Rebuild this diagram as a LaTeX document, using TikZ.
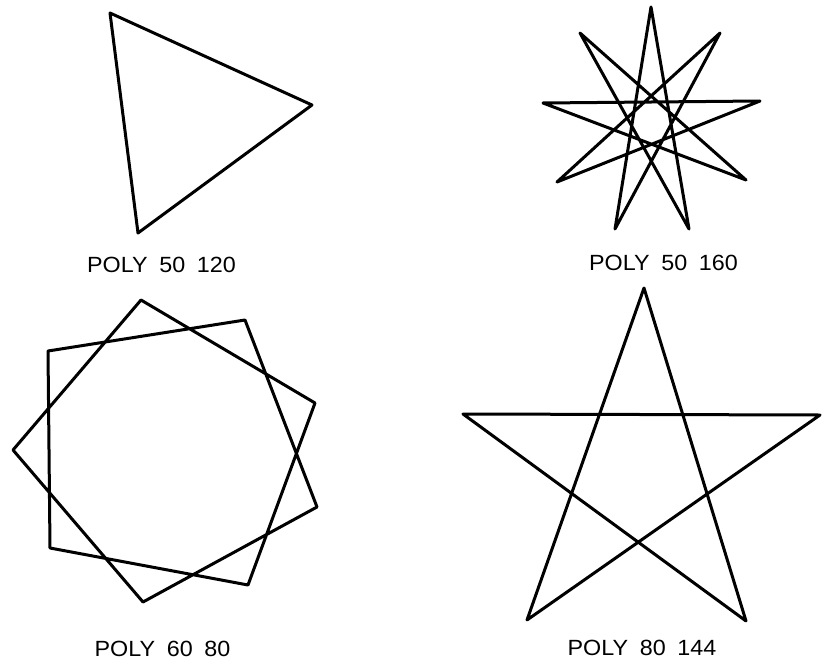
\documentclass[tikz,border=0pt]{standalone}
\usepackage{fontspec}
\setmainfont{Liberation Sans}
\newcommand{\wsp}{\hspace{0.5em}}
\begin{document}
\begin{tikzpicture}[x=1pt,y=-1pt,
  poly/.style={line width=3pt,line join=round,draw=black},
  lab/.style={inner sep=0pt,font=\fontsize{22}{24}\selectfont}]
\useasboundingbox (0,0) rectangle (826,666);
% POLY 50 120
\coordinate (t1) at (110,13);
\coordinate (t2) at (312,105);
\coordinate (t3) at (138,233);
\draw[poly] (t1) -- (t2) -- (t3) -- cycle;
% POLY 50 160 (tips clockwise from top)
\coordinate (s0) at (651,7);
\coordinate (s1) at (720,33);
\coordinate (s2) at (760,101);
\coordinate (s3) at (746,180);
\coordinate (s4) at (689,229);
\coordinate (s5) at (615,229);
\coordinate (s6) at (557,182);
\coordinate (s7) at (543,103);
\coordinate (s8) at (580,33);
\draw[poly] (s0) -- (s4) -- (s8) -- (s3) -- (s7) -- (s2) -- (s6) -- (s1) -- (s5) -- cycle;
% POLY 60 80
\coordinate (h0) at (141,300);
\coordinate (h1) at (245,320);
\coordinate (h2) at (315,403);
\coordinate (h3) at (317,507);
\coordinate (h4) at (248,585);
\coordinate (h5) at (143,602);
\coordinate (h6) at (50,548);
\coordinate (h7) at (13,450);
\coordinate (h8) at (48,351);
\draw[poly] (h0) -- (h2) -- (h4) -- (h6) -- (h8) -- (h1) -- (h3) -- (h5) -- (h7) -- cycle;
% POLY 80 144
\coordinate (p0) at (644,288);
\coordinate (p1) at (820,415);
\coordinate (p2) at (746,621);
\coordinate (p3) at (527,620);
\coordinate (p4) at (463,414);
\draw[poly] (p0) -- (p2) -- (p4) -- (p1) -- (p3) -- cycle;
% labels
\node[lab] (l1) at (161.5,265) {\scalebox{1.06}[1]{POLY\wsp 50\wsp 120}};
\node[lab] (l2) at (663.5,262.5) {\scalebox{1.06}[1]{POLY\wsp 50\wsp 160}};
\node[lab] (l3) at (162.5,648.5) {\scalebox{1.06}[1]{POLY\wsp 60\wsp 80}};
\node[lab] (l4) at (642,648) {\scalebox{1.06}[1]{POLY\wsp 80\wsp 144}};
\end{tikzpicture}
\end{document}
